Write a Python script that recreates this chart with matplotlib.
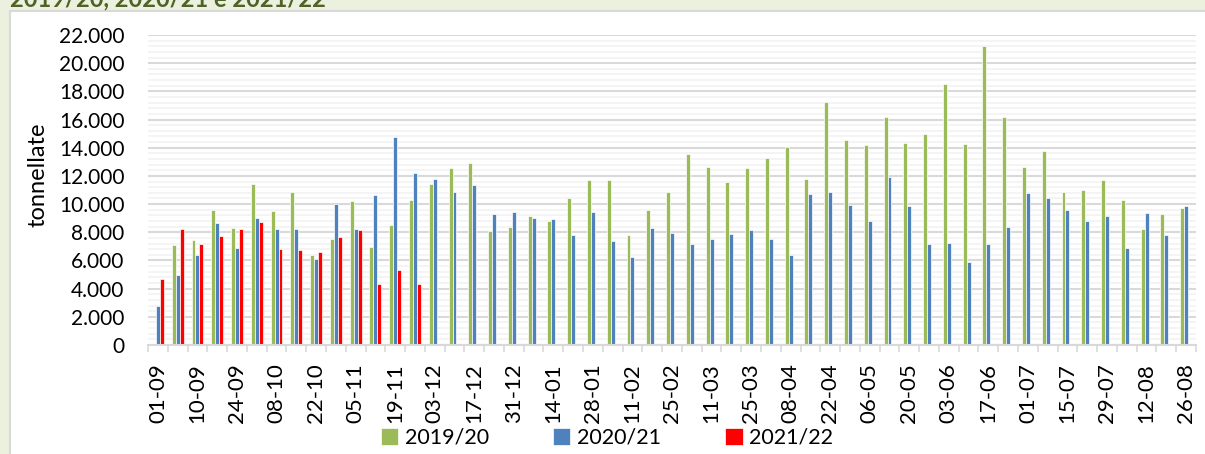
import matplotlib
matplotlib.use("Agg")
import matplotlib.pyplot as plt
import numpy as np
from matplotlib.patches import Rectangle
from matplotlib.ticker import FuncFormatter, MultipleLocator

plt.rcParams["font.family"] = ["Lato", "DejaVu Sans"]

weeks = [
    "01-09", "03-09", "10-09", "17-09", "24-09", "01-10", "08-10", "15-10", "22-10", "29-10",
    "05-11", "12-11", "19-11", "26-11", "03-12", "10-12", "17-12", "24-12", "31-12", "07-01",
    "14-01", "21-01", "28-01", "04-02", "11-02", "18-02", "25-02", "04-03", "11-03", "18-03",
    "25-03", "01-04", "08-04", "15-04", "22-04", "29-04", "06-05", "13-05", "20-05", "27-05",
    "03-06", "10-06", "17-06", "24-06", "01-07", "08-07", "15-07", "22-07", "29-07", "05-08",
    "12-08", "19-08", "26-08",
]

v1920 = [100, 7070, 7430, 9580, 8280, 11400, 9490, 10880, 6390, 7520,
         10200, 6930, 8520, 10290, 11400, 12560, 12890, 8090, 8370, 9160,
         8800, 10430, 11710, 11690, 7810, 9580, 10840, 13580, 12610, 11570,
         12560, 13250, 14050, 11760, 17250, 14550, 14190, 16160, 14340, 14980,
         18520, 14240, 21220, 16180, 12630, 13750, 10840, 10980, 11710, 10290,
         8210, 9320, 9720]
v2021 = [2790, 4940, 6360, 8660, 6880, 9010, 8210, 8260, 6080, 10030,
         8230, 10620, 14760, 12180, 11800, 10840, 11360, 9300, 9440, 8990,
         8920, 7810, 9460, 7380, 6250, 8300, 7970, 7190, 7500, 7900,
         8160, 7500, 6390, 10720, 10840, 9960, 8780, 11900, 9870, 7190,
         7240, 5870, 7190, 8350, 10810, 10430, 9600, 8800, 9130, 6860,
         9370, 7780, 9870]
v2122 = [4680, 8230, 7140, 7710, 8230, 8730, 6810, 6740, 6620, 7690,
         8160, 4310, 5320, 4350]

series = [("2019/20", v1920, "#9BBB59"),
          ("2020/21", v2021, "#4F81BD"),
          ("2021/22", v2122, "#FF0000")]

W, H = 1205, 454
fig = plt.figure(figsize=(W / 100, H / 100), dpi=100, facecolor="#EBF1DE")

# white chart area with grey border, behind the axes
fig.patches.append(Rectangle((10 / W, -0.01), 1, 1.01 - 11 / H, transform=fig.transFigure,
                             facecolor="white", edgecolor="#D9D9D9", lw=1.5, zorder=-5))
# title, cut off by the top edge as in the source
fig.text(10 / W, 1 - 6 / H, "2019/20, 2020/21 e 2021/22", color="#4F6228",
         fontsize=17, fontweight="bold", va="baseline", ha="left")

ax = fig.add_axes([148 / W, 1 - 345 / H, (1196 - 148) / W, (345 - 35) / H])
ax.set_facecolor("white")

x = np.arange(len(weeks))
bw = 0.2
for k, (name, vals, col) in enumerate(series):
    ax.bar(x[:len(vals)] + (k - 1) * bw, vals, width=bw, color=col,
           edgecolor="white", linewidth=0.5, label=name, zorder=3)

ax.set_xlim(-0.5, len(weeks) - 0.5)
ax.set_ylim(0, 22000)
ax.yaxis.set_major_locator(MultipleLocator(2000))
ax.yaxis.set_minor_locator(MultipleLocator(400))
ax.yaxis.set_major_formatter(FuncFormatter(lambda v, p: f"{int(v):,}".replace(",", ".")))
ax.grid(axis="y", which="minor", color="#F2F2F2", lw=1.2, zorder=0)
ax.grid(axis="y", which="major", color="#D9D9D9", lw=1.5, zorder=1)
ax.tick_params(axis="y", which="both", length=0, labelsize=15, pad=17)

# tick marks at category boundaries, labels every other week
ax.set_xticks(np.arange(len(weeks) + 1) - 0.5, minor=True)
ax.set_xticks(x[::2])
ax.set_xticklabels(weeks[::2], rotation=90)
ax.tick_params(axis="x", which="major", length=0, labelsize=16, pad=13)
ax.tick_params(axis="x", which="minor", length=5, width=1.2, color="#D9D9D9")

for s in ["left", "right", "top"]:
    ax.spines[s].set_visible(False)
ax.spines["bottom"].set_color("#D9D9D9")
ax.spines["bottom"].set_linewidth(1.5)
ax.spines["bottom"].set_zorder(4)

fig.text(38 / W, 1 - 175 / H, "tonnellate", rotation=90, fontsize=17,
         ha="center", va="center")

fig.legend(loc="center", bbox_to_anchor=(607 / W, 1 - 438 / H), ncol=3,
           frameon=False, fontsize=15.5, handlelength=0.8, handleheight=0.8,
           handletextpad=0.3, columnspacing=3.0)

fig.savefig("out.png", dpi=100, facecolor=fig.get_facecolor())
